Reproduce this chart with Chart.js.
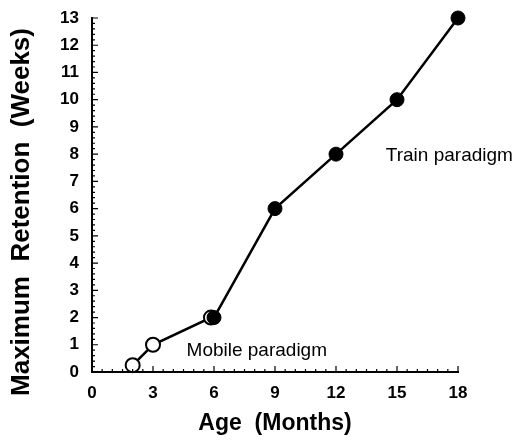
<!DOCTYPE html>
<html><head><meta charset="utf-8">
<script src="https://cdn.jsdelivr.net/npm/chart.js@4"></script>
<style>html,body{margin:0;padding:0;background:#fff}canvas{display:block}</style>
</head><body>
<canvas id="c" width="516" height="441"></canvas>
<script>
const mobileAge = [2, 3, 5.85];
const mobileRetention = [0.25, 1, 2];
const trainAge = [6, 9, 12, 15, 18];
const trainRetention = [2, 6, 8, 10, 13];
const xTicks = [0, 3, 6, 9, 12, 15, 18];
const yTicks = [0,1,2,3,4,5,6,7,8,9,10,11,12,13];
const labels = [
  {text: 'Train paradigm', x: 14.45, y: 7.95},
  {text: 'Mobile paradigm', x: 4.65, y: 0.77}
];
const yTitle = 'Maximum  Retention  (Weeks)';
const FONT = '"Liberation Sans", Arial, Helvetica, sans-serif';

const axisTicks = {
  id: 'axisTicks',
  afterDraw(chart) {
    const ctx = chart.ctx, xs = chart.scales.x, ys = chart.scales.y;
    const x0 = xs.getPixelForValue(0), y0 = ys.getPixelForValue(0);
    ctx.save();
    ctx.strokeStyle = '#000';
    ctx.lineWidth = 1.2;
    ctx.beginPath();
    for (let v = 0; v <= 18.001; v += 0.5) {
      const p = xs.getPixelForValue(v);
      const major = Math.abs(v / 3 - Math.round(v / 3)) < 1e-6;
      ctx.moveTo(p, y0); ctx.lineTo(p, y0 - (major ? 6 : 3));
    }
    for (let v = 0; v <= 13.001; v += 0.2) {
      const p = ys.getPixelForValue(v);
      const major = Math.abs(v - Math.round(v)) < 1e-6;
      ctx.moveTo(x0, p); ctx.lineTo(x0 + (major ? 6 : 3), p);
    }
    ctx.stroke();
    ctx.fillStyle = '#000';
    ctx.font = '19px ' + FONT;
    ctx.textAlign = 'left';
    ctx.textBaseline = 'middle';
    labels.forEach(l => ctx.fillText(l.text, xs.getPixelForValue(l.x), ys.getPixelForValue(l.y)));
    ctx.font = 'bold 26px ' + FONT;
    ctx.textAlign = 'center';
    ctx.translate(22, 212);
    ctx.rotate(-Math.PI / 2);
    ctx.fillText(yTitle, 0, 0);
    ctx.restore();
  }
};

new Chart(document.getElementById('c'), {
  type: 'scatter',
  data: {
    datasets: [
      {
        data: mobileAge.map((a, i) => ({x: a, y: mobileRetention[i]})).concat([{x: trainAge[0], y: trainRetention[0]}]),
        showLine: true, borderColor: '#000', borderWidth: 2.5, clip: false,
        pointRadius: [7, 7, 7, 0], pointBackgroundColor: '#fff', pointBorderColor: '#000', pointBorderWidth: 2,
        order: 2
      },
      {
        data: trainAge.map((a, i) => ({x: a, y: trainRetention[i]})),
        showLine: true, borderColor: '#000', borderWidth: 2.5, clip: false,
        pointRadius: 7, pointBackgroundColor: '#000', pointBorderColor: '#000', pointBorderWidth: 1,
        order: 1
      }
    ]
  },
  options: {
    responsive: false, animation: false,
    layout: {padding: {top: 18, right: 58, left: 0, bottom: 0}},
    plugins: {legend: {display: false}, tooltip: {enabled: false}},
    scales: {
      x: {
        type: 'linear', min: 0, max: 18,
        afterBuildTicks: s => { s.ticks = xTicks.map(v => ({value: v})); },
        afterFit: s => { s.height = 69; },
        grid: {display: false},
        border: {display: true, color: '#000', width: 2},
        ticks: {color: '#000', padding: 3, font: {family: FONT, size: 17, weight: 'bold'}, maxRotation: 0},
        title: {display: true, text: 'Age  (Months)', color: '#000', font: {family: FONT, size: 23, weight: 'bold'}, padding: {top: 6}}
      },
      y: {
        type: 'linear', min: 0, max: 13,
        afterBuildTicks: s => { s.ticks = yTicks.map(v => ({value: v})); },
        afterFit: s => { s.width = 92; },
        grid: {display: false},
        border: {display: true, color: '#000', width: 2},
        ticks: {color: '#000', padding: 5, font: {family: FONT, size: 17, weight: 'bold'}}
      }
    }
  },
  plugins: [axisTicks]
});
</script>
</body></html>
